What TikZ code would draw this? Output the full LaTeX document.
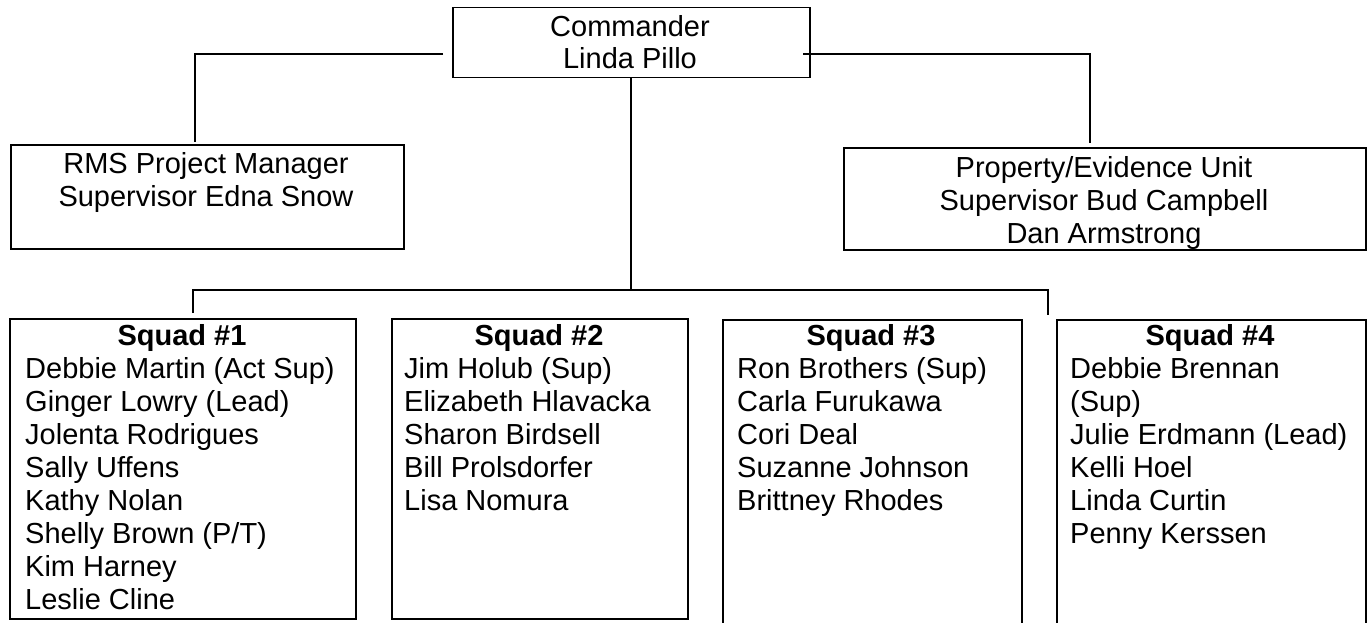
\documentclass[tikz,border=0pt]{standalone}
\usepackage{fontspec}
\setmainfont{Liberation Sans}
\begin{document}
\begin{tikzpicture}[x=1pt,y=-1pt,
  box/.style={draw=black, line width=1.5pt, rectangle, inner sep=0pt, anchor=north west},
  ln/.style={font=\fontsize{29}{33}\selectfont, inner sep=0pt, anchor=base},
  lst/.style={font=\fontsize{29}{33}\selectfont, inner sep=0pt, anchor=base west},
  hdr/.style={font=\fontsize{29}{33}\selectfont\bfseries, inner sep=0pt, anchor=base},
  conn/.style={draw=black, line width=1.5pt}]
\useasboundingbox (0,0) rectangle (1367,623);
\fill[white] (0,0) rectangle (1367,623);

% top box
\node[box, minimum width=357pt, minimum height=70pt] (cmd) at (452,7) {};
\node[ln] (cmd1) at (630,37) {Commander};
\node[ln] (cmd2) at (630,69) {Linda Pillo};

% second level
\node[box, minimum width=393pt, minimum height=104pt] (rms) at (10,144) {};
\node[ln] (rms1) at (206,173) {RMS Project Manager};
\node[ln] (rms2) at (206,206) {Supervisor Edna Snow};

\node[box, minimum width=522pt, minimum height=102pt] (prop) at (843,147) {};
\node[ln] (prop1) at (1104,177) {Property/Evidence Unit};
\node[ln] (prop2) at (1104,210) {Supervisor Bud Campbell};
\node[ln] (prop3) at (1104,243) {Dan Armstrong};

% squads
\node[box, minimum width=346pt, minimum height=300pt] (s1) at (9,318) {};
\node[box, minimum width=296pt, minimum height=300pt] (s2) at (391,318) {};
\node[box, minimum width=299pt, minimum height=310pt] (s3) at (722,319) {};
\node[box, minimum width=309pt, minimum height=310pt] (s4) at (1056,319) {};

\node[hdr] (h1) at (182,345) {Squad \#1};
\node[hdr] (h2) at (539,345) {Squad \#2};
\node[hdr] (h3) at (871,345) {Squad \#3};
\node[hdr] (h4) at (1210,345) {Squad \#4};

\foreach \t [count=\i] in {Debbie Martin (Act Sup),Ginger Lowry (Lead),Jolenta Rodrigues,Sally Uffens,Kathy Nolan,Shelly Brown (P/T),Kim Harney,Leslie Cline}
  \node[lst] (a\i) at (25,{345+33*\i}) {\t};
\foreach \t [count=\i] in {Jim Holub (Sup),Elizabeth Hlavacka,Sharon Birdsell,Bill Prolsdorfer,Lisa Nomura}
  \node[lst] (b\i) at (404,{345+33*\i}) {\t};
\foreach \t [count=\i] in {Ron Brothers (Sup),Carla Furukawa,Cori Deal,Suzanne Johnson,Brittney Rhodes}
  \node[lst] (c\i) at (737,{345+33*\i}) {\t};
\foreach \t [count=\i] in {Debbie Brennan,(Sup),Julie Erdmann (Lead),Kelli Hoel,Linda Curtin,Penny Kerssen}
  \node[lst] (d\i) at (1070,{345+33*\i}) {\t};

% connectors
\coordinate (lA) at (443,54);
\coordinate (lB) at (195,142);
\coordinate (rA) at (803,54);
\coordinate (rB) at (1090,143);
\coordinate (bar) at (631,290);
\coordinate (bl) at (193,290);
\coordinate (br) at (1048,290);
\coordinate (dl) at (193,313);
\coordinate (dr) at (1048,315);
\draw[conn] (lA) -| (lB);
\draw[conn] (rA) -| (rB);
\draw[conn] (cmd.south -| bar) -- (bar);
\draw[conn] (dl) -- (bl) -- (br) -- (dr);
\end{tikzpicture}
\end{document}
